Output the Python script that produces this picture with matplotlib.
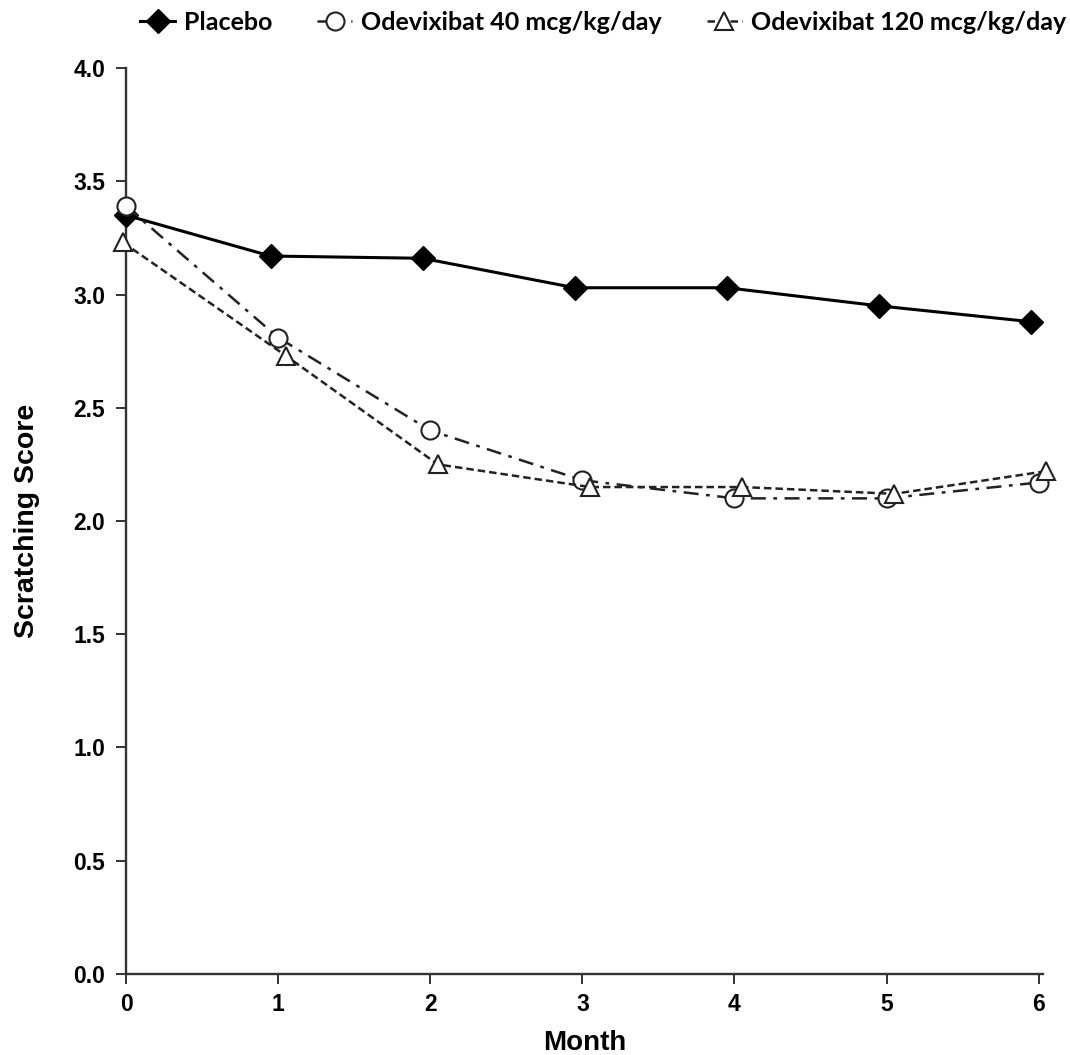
import matplotlib.pyplot as plt
import numpy as np

months = [0, 1, 2, 3, 4, 5, 6]

# slight horizontal offsets as drawn in the figure
x_placebo = [0, 0.95, 1.95, 2.95, 3.95, 4.95, 5.95]
x_40 = [0, 1.0, 2.0, 3.0, 4.0, 5.0, 6.0]
x_120 = [-0.02, 1.05, 2.05, 3.05, 4.05, 5.05, 6.05]

placebo = [3.35, 3.17, 3.16, 3.03, 3.03, 2.95, 2.88]
odev_40 = [3.39, 2.81, 2.40, 2.18, 2.10, 2.10, 2.17]
odev_120 = [3.23, 2.73, 2.25, 2.15, 2.15, 2.12, 2.22]

labels = ["Placebo", "Odevixibat 40 mcg/kg/day", "Odevixibat 120 mcg/kg/day"]
yticks = [0.0, 0.5, 1.0, 1.5, 2.0, 2.5, 3.0, 3.5, 4.0]

fig = plt.figure(figsize=(10.7, 10.55), dpi=100)
ax = fig.add_axes([0.1178, 0.0768, 0.8572, 0.8587])

ax.plot(x_placebo, placebo, color='black', lw=2.2, ls='-', marker='D', ms=12,
        mfc='black', mec='black', label=labels[0], clip_on=False, zorder=3)
ax.plot(x_40, odev_40, color='#222222', lw=1.8, ls=(0, (6, 3, 1.5, 3)), marker='o', ms=13,
        mfc='white', mec='#222222', mew=1.5, label=labels[1], clip_on=False, zorder=4)
ax.plot(x_120, odev_120, color='#222222', lw=1.8, ls=(0, (3, 1.6)), marker='^', ms=13,
        mfc='white', mec='#222222', mew=1.5, label=labels[2], clip_on=False, zorder=4)

ax.set_xlim(0, 6.03)
ax.set_ylim(0, 4)
ax.set_xticks(months)
ax.set_yticks(yticks)
ax.set_yticklabels([f"{v:.1f}" for v in yticks])

for s in ['top', 'right']:
    ax.spines[s].set_visible(False)
for s in ['left', 'bottom']:
    ax.spines[s].set_linewidth(1.7)
    ax.spines[s].set_color('#333333')

ax.tick_params(direction='out', length=7, width=1.4, color='#333333')
for lab in ax.get_xticklabels() + ax.get_yticklabels():
    lab.set_fontfamily('Liberation Sans')
    lab.set_fontweight('bold')
    lab.set_fontsize(16.5)
ax.tick_params(axis='x', pad=7)
ax.tick_params(axis='y', pad=8)

ax.set_xlabel("Month", fontsize=20, fontweight='bold', family='Liberation Sans', labelpad=10)
ax.set_ylabel("Scratching Score", fontsize=20.5, fontweight='bold', family='Liberation Sans', labelpad=24)

leg = fig.legend(handles=ax.get_lines(), labels=labels, loc='center',
                 bbox_to_anchor=(0.5636, 1 - 22 / 1055), ncol=3, frameon=False,
                 handlelength=1.4, handletextpad=0.35, columnspacing=1.8,
                 prop={'family': 'Lato', 'weight': 'bold', 'size': 18})

plt.savefig('out.png', dpi=100)
